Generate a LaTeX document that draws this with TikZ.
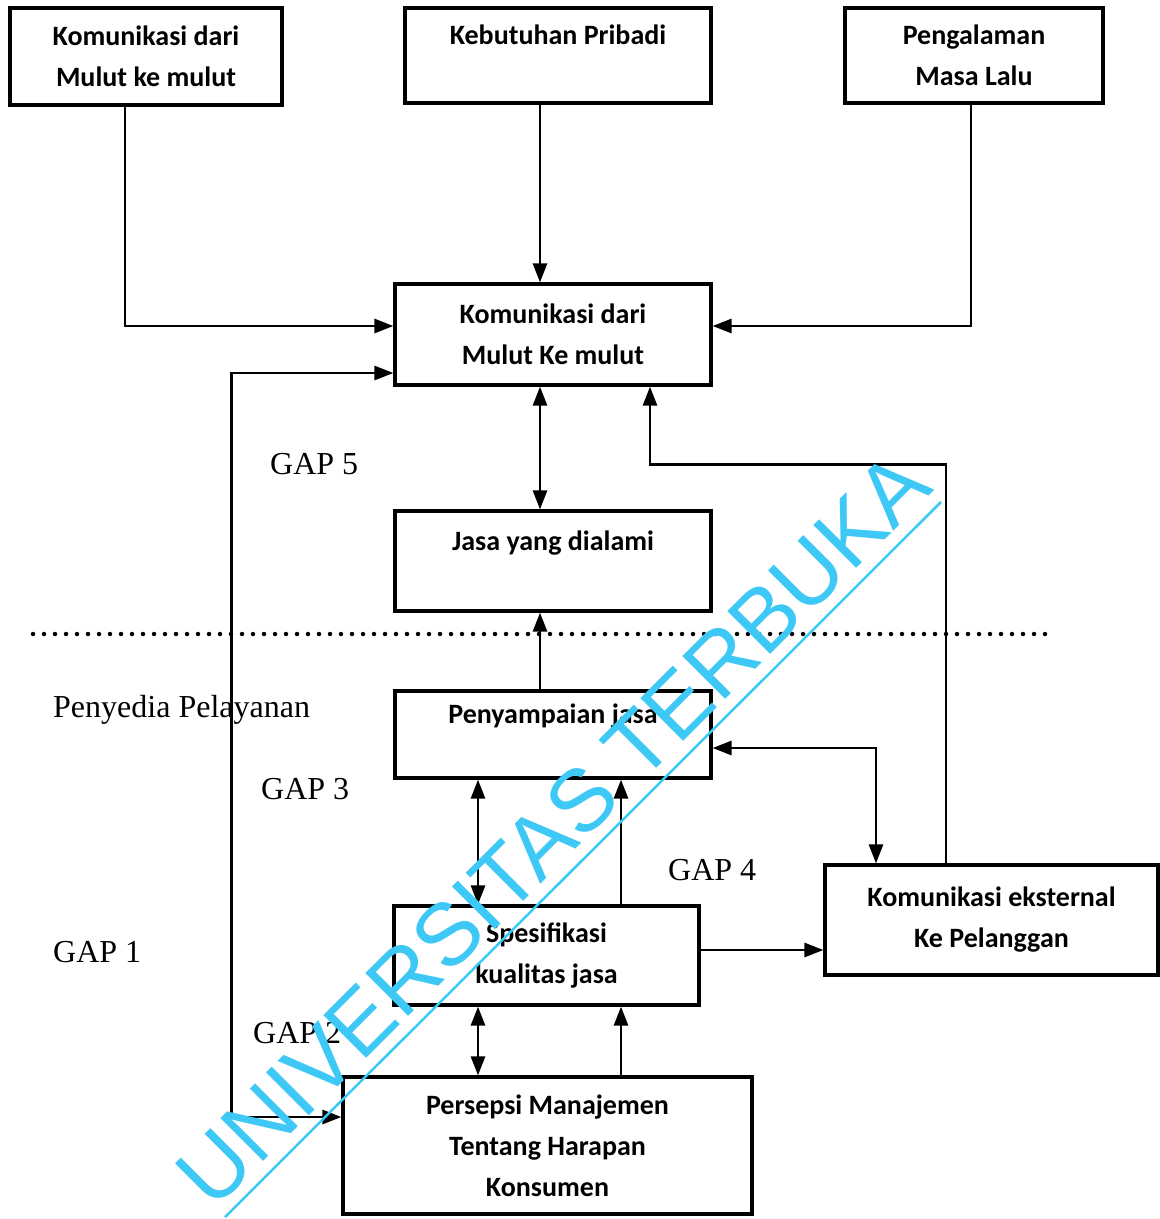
\documentclass[tikz,border=0pt]{standalone}
\usepackage{fontspec}
\setmainfont{Liberation Serif}
\newfontfamily\boxfont{Carlito}
\newfontfamily\markfont{Liberation Sans}
\usetikzlibrary{arrows.meta, positioning, calc}
\definecolor{utcyan}{RGB}{62,200,245}
\tikzset{
  box/.style={draw, line width=3.2pt, align=center, inner sep=0pt,
    font=\boxfont\bfseries\fontsize{28}{41}\selectfont},
  arr/.style={line width=2.8pt, -{Triangle[length=19pt,width=14pt]}},
  arrr/.style={line width=2.8pt, {Triangle[length=19pt,width=14pt]}-{Triangle[length=19pt,width=14pt]}},
  gaplabel/.style={font=\fontsize{32}{38}\selectfont, anchor=base west, inner sep=0pt},
}

\begin{document}
\begin{tikzpicture}[x=1pt,y=-1pt]
\useasboundingbox (0,0) rectangle (1160,1219);
% top row: sources of expectation
\node[box, minimum width=272, minimum height=97] (wom1) at (146,56.5) {Komunikasi dari\\Mulut ke mulut};
\node[box, minimum width=306, minimum height=95] (need) at (558,55.5) {Kebutuhan Pribadi\\~};
\node[box, minimum width=258, minimum height=95] (past) at (974,55.5) {Pengalaman\\Masa Lalu};
% customer side
\node[box, minimum width=316, minimum height=101] (wom) at (553,334.5) {Komunikasi dari\\Mulut Ke mulut};
\node[box, minimum width=316, minimum height=100] (exp) at (553,561) {Jasa yang dialami\\~};
% provider side
\node[box, minimum width=316, minimum height=87] (deliv) at (553,734.5) {Penyampaian jasa\\~};
\node[box, minimum width=305, minimum height=99] (spec) at (546.5,955.5) {Spesifikasi\\kualitas jasa};
\node[box, minimum width=333, minimum height=110] (extcom) at (991.5,920) {Komunikasi eksternal\\Ke Pelanggan};
\node[box, minimum width=409, minimum height=137] (mgmt) at (547.5,1145.5) {Persepsi Manajemen\\Tentang Harapan\\Konsumen};

% gap labels
\node[gaplabel] (gap5) at (270,474) {GAP 5};
\node[gaplabel] (prov) at (53,717) {Penyedia Pelayanan};
\node[gaplabel] (gap3) at (261,799) {GAP 3};
\node[gaplabel] (gap4) at (668,880) {GAP 4};
\node[gaplabel] (gap1) at (53,962) {GAP 1};
\node[gaplabel] (gap2) at (253,1043) {GAP 2};

% dividing line
\draw[line width=4.5pt, line cap=round, dash pattern=on 0pt off 11pt] (33,634) -- (1050,634);

% connectors
\draw[arr] ([xshift=-21pt]wom1.south) |- ([yshift=8.5pt]wom.west);
\draw[arr] ([xshift=-18pt]need.south) -- ([xshift=-18pt]need.south |- wom.north);
\draw[arr] ([xshift=-3pt]past.south) |- ([yshift=8.5pt]wom.east);
\draw[arrr] ([yshift=28.5pt]mgmt.west) -- ++(-110,0) |- ([yshift=-38.5pt]wom.west);
\draw[arrr] ([xshift=-13pt]wom.south) -- ([xshift=-13pt]exp.north);
\draw[arr] ([xshift=-45.5pt]extcom.north) -- ++(0,-399) -| ([xshift=97pt]wom.south);
\draw[arr] ([xshift=-13pt]deliv.north) -- ([xshift=-13pt]exp.south);
\draw[arrr] ([yshift=-13.5pt]deliv.east) -| ([xshift=-115.5pt]extcom.north);
\draw[arrr] ([xshift=-68.5pt]spec.north) -- ([xshift=-68.5pt]spec.north |- deliv.south);
\draw[arr] ([xshift=74.5pt]spec.north) -- ([xshift=74.5pt]spec.north |- deliv.south);
\draw[arr] ([yshift=5.5pt]spec.east) -- ([yshift=5.5pt]spec.east -| extcom.west);
\draw[arrr] ([xshift=-69.5pt]mgmt.north) -- ([xshift=-69.5pt]mgmt.north |- spec.south);
\draw[arr] ([xshift=73.5pt]mgmt.north) -- ([xshift=73.5pt]mgmt.north |- spec.south);

% watermark
\node[rotate=45, anchor=base, inner sep=0pt, text=utcyan,
  font=\markfont\fontsize{88}{88}\selectfont] (mark) at (574,851) {UNIVERSITAS TERBUKA};
\draw[utcyan, line width=2.5pt] (225,1217) -- (941,502);
\end{tikzpicture}
\end{document}
